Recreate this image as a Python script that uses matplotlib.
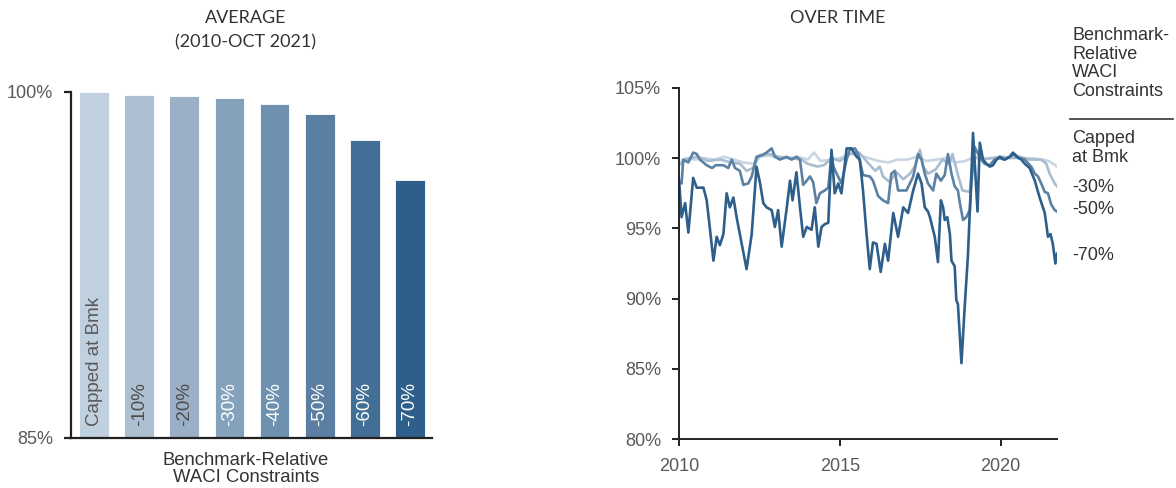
import matplotlib
matplotlib.use("Agg")
import matplotlib.pyplot as plt
from matplotlib.lines import Line2D

# ---------------- data ----------------
categories = ["Capped at Bmk", "-10%", "-20%", "-30%", "-40%", "-50%", "-60%", "-70%"]
avg_values = [99.98, 99.87, 99.83, 99.72, 99.50, 99.03, 97.90, 96.20]
bar_colors = ["#c0d0de", "#adc0d1", "#9bb0c6", "#84a2bb", "#6d91ae", "#5a7fa2", "#436f96", "#2d5f8a"]
label_colors = ["#595959", "#4d4d4d", "#4d4d4d", "white", "white", "white", "white", "white"]

cap_years = [2010.0, 2010.2, 2010.5, 2010.8, 2011.1, 2011.4, 2011.7, 2012.0, 2012.3, 2012.5,
             2012.8, 2013.1, 2013.4, 2013.7, 2014.0, 2014.2, 2014.4, 2014.7, 2015.0, 2015.3,
             2015.6, 2015.9, 2016.2, 2016.5, 2016.8, 2017.1, 2017.4, 2017.7, 2018.0, 2018.3,
             2018.6, 2018.9, 2019.2, 2019.5, 2019.8, 2020.1, 2020.4, 2020.7, 2021.0, 2021.3,
             2021.5, 2021.75]
cap_vals = [99.6, 100.0, 99.9, 100.0, 99.9, 100.1, 99.9, 99.7, 99.6, 100.1,
            100.2, 100.0, 100.0, 100.1, 99.9, 100.4, 99.8, 99.9, 100.0, 100.3,
            100.2, 100.0, 99.8, 99.7, 99.9, 99.9, 100.1, 99.8, 99.9, 100.0,
            99.7, 99.8, 100.1, 100.0, 100.0, 100.1, 100.0, 100.0, 100.0, 99.9,
            99.8, 99.4]

m30_years = [2010.0, 2010.3, 2010.6, 2010.9, 2011.3, 2011.6, 2011.9, 2012.1, 2012.3, 2012.5,
             2012.8, 2013.1, 2013.5, 2013.8, 2014.0, 2014.3, 2014.5, 2014.75, 2015.0, 2015.3,
             2015.6, 2015.9, 2016.1, 2016.24, 2016.34, 2016.55, 2016.76, 2016.97, 2017.18, 2017.33,
             2017.49, 2017.59, 2017.74, 2017.98, 2018.19, 2018.4, 2018.5, 2018.66, 2018.81, 2019.04,
             2019.15, 2019.4, 2019.7, 2020.0, 2020.3, 2020.6, 2020.9, 2021.06, 2021.26, 2021.42,
             2021.52, 2021.68, 2021.75]
m30_vals = [99.5, 100.0, 100.1, 99.8, 99.9, 99.7, 99.6, 99.1, 99.3, 100.2,
            100.3, 100.1, 100.0, 99.9, 99.6, 99.4, 99.5, 100.0, 99.8, 100.3,
            100.4, 99.6, 99.1, 99.4, 98.7, 98.3, 99.0, 98.5, 98.9, 99.4,
            100.6, 99.4, 98.9, 99.2, 99.9, 99.6, 100.3, 98.9, 97.7, 97.6,
            100.1, 99.9, 100.0, 100.1, 100.0, 100.1, 99.9, 99.9, 99.9, 99.6,
            98.9, 98.2, 98.0]

m50_years = [2010.0, 2010.08, 2010.13, 2010.29, 2010.44, 2010.55, 2010.65, 2010.86, 2011.03, 2011.14,
             2011.38, 2011.53, 2011.64, 2011.74, 2011.89, 2012.0, 2012.15, 2012.26, 2012.41, 2012.57,
             2012.72, 2012.88, 2012.98, 2013.14, 2013.34, 2013.5, 2013.65, 2013.76, 2013.86, 2013.97,
             2014.07, 2014.17, 2014.27, 2014.38, 2014.53, 2014.64, 2014.74, 2014.8, 2014.9, 2015.05,
             2015.21, 2015.31, 2015.47, 2015.57, 2015.72, 2015.93, 2016.03, 2016.19, 2016.34, 2016.5,
             2016.6, 2016.71, 2016.81, 2016.86, 2017.07, 2017.28, 2017.43, 2017.54, 2017.64, 2017.74,
             2017.9, 2018.0, 2018.14, 2018.26, 2018.36, 2018.47, 2018.57, 2018.67, 2018.73, 2018.83,
             2018.93, 2019.04, 2019.09, 2019.19, 2019.3, 2019.4, 2019.5, 2019.66, 2019.81, 2019.97,
             2020.12, 2020.28, 2020.43, 2020.59, 2020.75, 2020.95, 2021.06, 2021.16, 2021.26, 2021.37,
             2021.47, 2021.57, 2021.68, 2021.75]
m50_vals = [98.3, 98.2, 99.9, 99.7, 100.4, 100.3, 99.9, 99.5, 99.3, 99.5,
            99.5, 99.3, 99.9, 99.3, 99.1, 98.1, 98.2, 98.7, 100.1, 100.2,
            100.4, 100.7, 100.1, 99.9, 100.1, 99.9, 100.1, 99.9, 98.1, 98.4,
            98.7, 98.3, 96.8, 97.5, 97.7, 97.9, 100.3, 99.4, 98.9, 98.2,
            99.9, 100.6, 100.7, 100.3, 98.8, 98.7, 98.4, 97.3, 97.0, 96.8,
            98.9, 99.1, 97.7, 97.7, 97.7, 98.7, 100.3, 99.9, 98.9, 98.2,
            97.7, 98.9, 98.4, 98.8, 100.3, 98.9, 98.0, 97.7, 96.8, 95.6,
            95.8, 96.3, 98.2, 100.8, 100.3, 99.9, 99.6, 99.5, 99.9, 100.0,
            99.9, 100.1, 100.3, 100.0, 99.9, 99.4, 98.9, 98.7, 98.2, 97.6,
            97.5, 96.7, 96.3, 96.2]

m70_years = [2010.0, 2010.08, 2010.19, 2010.29, 2010.44, 2010.55, 2010.76, 2010.86, 2010.94, 2011.07,
             2011.17, 2011.27, 2011.38, 2011.48, 2011.58, 2011.69, 2011.79, 2011.89, 2012.1, 2012.26,
             2012.41, 2012.52, 2012.62, 2012.72, 2012.88, 2012.98, 2013.08, 2013.19, 2013.34, 2013.45,
             2013.53, 2013.65, 2013.76, 2013.86, 2013.97, 2014.12, 2014.22, 2014.33, 2014.43, 2014.53,
             2014.64, 2014.74, 2014.84, 2014.95, 2015.05, 2015.21, 2015.36, 2015.52, 2015.62, 2015.72,
             2015.83, 2015.93, 2016.03, 2016.14, 2016.27, 2016.4, 2016.5, 2016.66, 2016.81, 2016.97,
             2017.12, 2017.28, 2017.43, 2017.54, 2017.64, 2017.74, 2017.8, 2017.95, 2018.05, 2018.14,
             2018.21, 2018.26, 2018.34, 2018.42, 2018.47, 2018.57, 2018.62, 2018.67, 2018.78, 2018.88,
             2018.98, 2019.09, 2019.14, 2019.28, 2019.35, 2019.45, 2019.56, 2019.66, 2019.76, 2019.87,
             2019.97, 2020.12, 2020.28, 2020.38, 2020.49, 2020.64, 2020.75, 2020.9, 2021.06, 2021.21,
             2021.37, 2021.47, 2021.55, 2021.62, 2021.7, 2021.75]
m70_vals = [98.5, 95.8, 96.8, 94.7, 98.6, 97.9, 97.9, 97.0, 95.4, 92.7,
            94.4, 93.8, 94.6, 97.5, 96.5, 97.2, 95.8, 94.6, 92.1, 94.6,
            99.4, 98.2, 96.8, 96.5, 96.3, 95.1, 96.3, 93.7, 96.3, 98.4,
            97.0, 99.0, 96.5, 94.4, 95.1, 94.9, 96.5, 93.7, 95.1, 95.3,
            95.4, 100.6, 97.5, 98.2, 97.5, 100.7, 100.7, 100.1, 99.9, 97.7,
            94.6, 92.1, 94.0, 93.9, 91.9, 93.9, 92.7, 96.1, 94.4, 96.5,
            96.1, 97.7, 98.9, 98.2, 96.5, 96.2, 95.8, 94.4, 92.6, 97.0,
            96.5, 95.6, 95.8, 94.6, 92.7, 92.3, 89.9, 89.6, 85.4, 89.4,
            93.0, 98.9, 101.8, 96.2, 101.1, 99.9, 99.6, 99.4, 99.5, 99.9,
            100.1, 99.9, 100.1, 100.4, 100.1, 99.9, 99.6, 99.3, 98.4, 97.2,
            96.1, 94.4, 94.6, 93.9, 92.5, 93.2]

line_series = [
    ("Capped at Bmk", cap_years, cap_vals, "#c9d6e2"),
    ("-30%", m30_years, m30_vals, "#a9bdd0"),
    ("-50%", m50_years, m50_vals, "#5b81a4"),
    ("-70%", m70_years, m70_vals, "#2d5f8a"),
]

xlabel_lines = ["Benchmark-Relative", "WACI Constraints"]

# ---------------- figure ----------------
plt.rcParams["font.family"] = ["Liberation Sans", "DejaVu Sans"]
fig = plt.figure(figsize=(11.76, 4.88), dpi=100)

tick_col = "#595959"
spine_col = "#222222"


def body_font():
    return ["Liberation Sans", "DejaVu Sans"]


def title_font():
    return ["Lato", "DejaVu Sans"]


# ---- left: bars ----
ax1 = fig.add_axes([0.0604, 0.1025, 0.307, 0.709])
x = list(range(len(categories)))
ax1.bar(x, [v - 85 for v in avg_values], bottom=85, width=0.66, color=bar_colors,
        edgecolor="white", linewidth=0.6)
ax1.set_ylim(85, 100)
ax1.set_xlim(-0.51, 7.49)
ax1.set_yticks([85, 100])
ax1.set_yticklabels(["85%", "100%"], family=body_font())
ax1.set_xticks([])
for s in ["top", "right"]:
    ax1.spines[s].set_visible(False)
for s in ["left", "bottom"]:
    ax1.spines[s].set_color(spine_col)
    ax1.spines[s].set_linewidth(1.6)
ax1.tick_params(axis="y", length=5, width=1.6, color=spine_col, labelsize=13,
                labelcolor=tick_col, pad=8)
for xi, lab, lc in zip(x, categories, label_colors):
    ax1.text(xi, 85.5, lab, rotation=90, ha="center", va="bottom", fontsize=13.5,
             color=lc, family=body_font())
for line_txt, base_px in zip(xlabel_lines, [465, 482.5]):
    fig.text(246 / 1176, 1 - base_px / 488, line_txt, ha="center", va="baseline",
             fontsize=13.3, color="#333333", family=body_font())

fig.text(0.209, 0.963, "AVERAGE", ha="center", va="center", fontsize=13,
         color="#333333", family=title_font())
fig.text(0.209, 0.914, "(2010-OCT 2021)", ha="center", va="center", fontsize=13,
         color="#333333", family=title_font())

# ---- right: lines ----
ax2 = fig.add_axes([0.5774, 0.1004, 0.3214, 0.7193])
for name, yrs, vals, col in line_series:
    ax2.plot(yrs, vals, color=col, linewidth=1.9, solid_joinstyle="round")
ax2.set_xlim(2010, 2021.75)
ax2.set_ylim(80, 105)
ax2.set_yticks([80, 85, 90, 95, 100, 105])
ax2.set_yticklabels([f"{v}%" for v in [80, 85, 90, 95, 100, 105]], family=body_font())
ax2.set_xticks([2010, 2015, 2020])
ax2.set_xticklabels(["2010", "2015", "2020"], family=body_font())
for s in ["top", "right"]:
    ax2.spines[s].set_visible(False)
for s in ["left", "bottom"]:
    ax2.spines[s].set_color(spine_col)
    ax2.spines[s].set_linewidth(1.4)
ax2.tick_params(axis="both", length=5, width=1.4, color=spine_col, labelsize=13,
                labelcolor=tick_col)
ax2.tick_params(axis="y", pad=8)
ax2.tick_params(axis="x", pad=9)

fig.text(0.7126, 0.963, "OVER TIME", ha="center", va="center", fontsize=13,
         color="#333333", family=title_font())

# legend-like labels on the right
lx = 1072 / 1176
fig.text(lx, 1 - 27 / 488, "Benchmark-\nRelative\nWACI\nConstraints", ha="left", va="top",
         fontsize=13, color="#333333", linespacing=1.12, family=body_font())
fig.add_artist(Line2D([1070 / 1176, 1173 / 1176], [1 - 119 / 488, 1 - 119 / 488],
                      color="#333333", linewidth=1.2, transform=fig.transFigure))
fig.text(lx, 1 - 130 / 488, "Capped\nat Bmk", ha="left", va="top", fontsize=13,
         color="#333333", linespacing=1.12, family=body_font())
for lab, ypix in [("-30%", 187), ("-50%", 210), ("-70%", 256)]:
    fig.text(lx, 1 - ypix / 488, lab, ha="left", va="center", fontsize=13,
             color="#333333", family=body_font())

fig.savefig("out.png", dpi=100)
